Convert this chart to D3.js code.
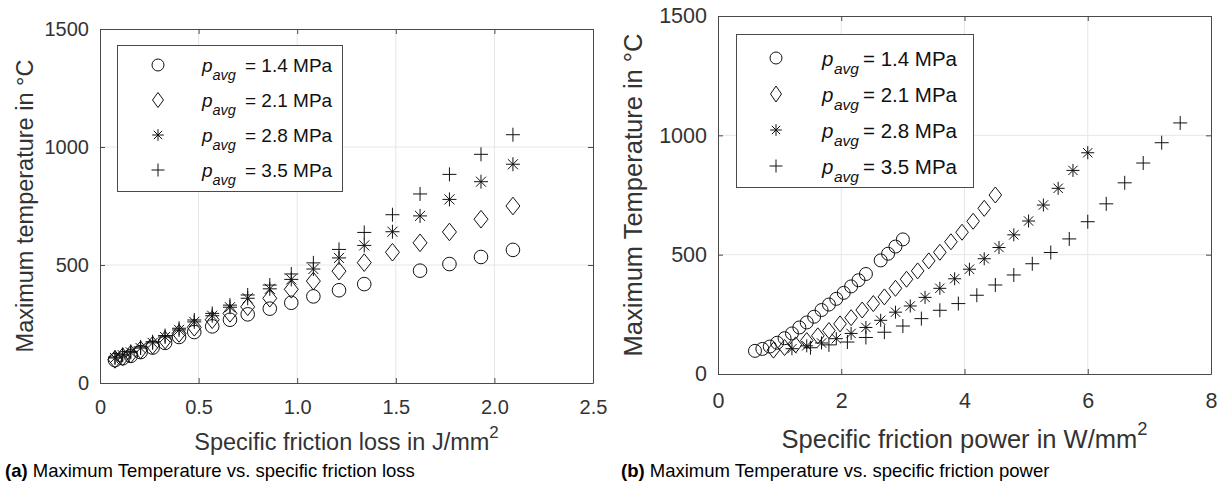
<!DOCTYPE html>
<html>
<head>
<meta charset="utf-8">
<script src="https://cdn.jsdelivr.net/npm/d3@7"></script>
<style>
  html, body { margin: 0; padding: 0; background: #fff; }
  svg { display: block; font-family: "Liberation Sans", Arial, Helvetica, sans-serif; }
</style>
</head>
<body>
<script>
// Specific friction loss (J/mm²), shared by all four pressure levels
const lossX = [0.076, 0.115, 0.156, 0.206, 0.267, 0.330, 0.401, 0.478, 0.569, 0.659, 0.749,
               0.861, 0.970, 1.082, 1.212, 1.340, 1.483, 1.623, 1.772, 1.932, 2.094];

// Specific friction power (W/mm²) for each pressure level
const powerP14 = [0.60, 0.72, 0.84, 0.96, 1.08, 1.20, 1.32, 1.44, 1.56, 1.68, 1.80,
                  1.92, 2.04, 2.16, 2.28, 2.40, 2.52, 2.64, 2.76, 2.88, 3.00];
const powerP21 = [0.90, 1.08, 1.26, 1.44, 1.62, 1.80, 1.98, 2.16, 2.34, 2.52, 2.70,
                  2.88, 3.06, 3.24, 3.42, 3.60, 3.78, 3.96, 4.14, 4.32, 4.50];
const powerP28 = [1.20, 1.44, 1.68, 1.92, 2.16, 2.40, 2.64, 2.88, 3.12, 3.36, 3.60,
                  3.84, 4.08, 4.32, 4.56, 4.80, 5.04, 5.28, 5.52, 5.76, 6.00];
const powerP35 = [1.50, 1.80, 2.10, 2.40, 2.70, 3.00, 3.30, 3.60, 3.90, 4.20, 4.50,
                  4.80, 5.10, 5.40, 5.70, 6.00, 6.30, 6.60, 6.90, 7.20, 7.50];

// Maximum temperature (°C); null = no measurement
const tempP14 = [97, 105, 115, 131, 150, 170, 195, 216, 240, 268, 291,
                 315, 340, 367, 393, 419, null, 476, 504, 534, 564];
const tempP21 = [100, 111, 122, 140, 160, 182, 210, 236, 268, 295, 323,
                 359, 397, 432, 474, 510, 554, 594, 640, 694, 750];
const tempP28 = [106, 118, 130, 148, 170, 195, 225, 259, 285, 321, 359,
                 399, 439, 483, 530, 583, 641, 708, 778, 853, 927];
const tempP35 = [110, 122, 134, 153, 175, 201, 232, 267, 295, 330, 373,
                 415, 462, 509, 566, 638, 713, 801, 884, 969, 1052];

const pressureLabels = ["1.4", "2.1", "2.8", "3.5"];
const markerKinds = ["circle", "diamond", "star", "plus"];

const lossTicks = [0, 0.5, 1.0, 1.5, 2.0, 2.5];
const lossTickLabels = ["0", "0.5", "1.0", "1.5", "2.0", "2.5"];
const powerTicks = [0, 2, 4, 6, 8];
const powerTickLabels = ["0", "2", "4", "6", "8"];
const tempTicks = [0, 500, 1000, 1500];
const tempTickLabels = ["0", "500", "1000", "1500"];

const svg = d3.select("body").append("svg")
  .attr("width", 1225).attr("height", 494);
svg.append("rect").attr("width", 1225).attr("height", 494).attr("fill", "#fff");

const INK = "#111";
const AXIS = "#4a4a4a";
const TEXT = "#333";
const GRID = "#e6e6e6";

function markerPath(kind, s) {
  switch (kind) {
    case "circle": {
      const r = s.r;
      return `M${-r},0A${r},${r} 0 1,0 ${r},0A${r},${r} 0 1,0 ${-r},0Z`;
    }
    case "diamond":
      return `M0,${-s.h}L${s.w},0L0,${s.h}L${-s.w},0Z`;
    case "star": {
      const a = s.a, d = s.a * 0.72;
      return `M0,${-a}V${a}M${-a},0H${a}M${-d},${-d}L${d},${d}M${-d},${d}L${d},${-d}`;
    }
    case "plus": {
      const a = s.p;
      return `M0,${-a}V${a}M${-a},0H${a}`;
    }
  }
}

function drawPanel(cfg) {
  const g = svg.append("g");
  const x = d3.scaleLinear().domain(cfg.xDomain).range([cfg.left, cfg.right]);
  const y = d3.scaleLinear().domain([0, 1500]).range([cfg.bottom, cfg.top]);

  // grid
  g.append("g").selectAll("line.gx").data(cfg.xTicks.slice(1, -1)).join("line")
    .attr("x1", d => x(d)).attr("x2", d => x(d))
    .attr("y1", cfg.top).attr("y2", cfg.bottom)
    .attr("stroke", GRID).attr("stroke-width", 1);
  g.append("g").selectAll("line.gy").data(tempTicks.slice(1, -1)).join("line")
    .attr("x1", cfg.left).attr("x2", cfg.right)
    .attr("y1", d => y(d)).attr("y2", d => y(d))
    .attr("stroke", GRID).attr("stroke-width", 1);

  // axes (ticks pointing inward, box on all four sides)
  const fmtX = d => cfg.xTickLabels[cfg.xTicks.indexOf(d)];
  const fmtY = d => tempTickLabels[tempTicks.indexOf(d)];
  const styleAxis = sel => {
    sel.selectAll("path.domain").attr("stroke", AXIS).attr("stroke-width", 1);
    sel.selectAll(".tick line").attr("stroke", AXIS).attr("stroke-width", 1);
    sel.selectAll("text").attr("fill", TEXT).attr("font-size", cfg.tickFont)
      .attr("font-family", "Liberation Sans, Arial, sans-serif");
  };
  g.append("g").attr("transform", `translate(0,${cfg.bottom})`)
    .call(d3.axisBottom(x).tickValues(cfg.xTicks).tickFormat(fmtX)
      .tickSizeInner(-5).tickSizeOuter(0).tickPadding(cfg.xPad))
    .call(styleAxis);
  g.append("g").attr("transform", `translate(0,${cfg.top})`)
    .call(d3.axisTop(x).tickValues(cfg.xTicks).tickFormat("")
      .tickSizeInner(-5).tickSizeOuter(0))
    .call(styleAxis);
  g.append("g").attr("transform", `translate(${cfg.left},0)`)
    .call(d3.axisLeft(y).tickValues(tempTicks).tickFormat(fmtY)
      .tickSizeInner(-5).tickSizeOuter(0).tickPadding(cfg.yPad))
    .call(styleAxis);
  g.append("g").attr("transform", `translate(${cfg.right},0)`)
    .call(d3.axisRight(y).tickValues(tempTicks).tickFormat("")
      .tickSizeInner(-5).tickSizeOuter(0))
    .call(styleAxis);

  // data markers
  cfg.series.forEach((s, i) => {
    const pts = s.xs.map((v, k) => [v, s.ys[k]]).filter(p => p[1] != null);
    g.append("g").selectAll("path").data(pts).join("path")
      .attr("transform", d => `translate(${x(d[0])},${y(d[1])})`)
      .attr("d", markerPath(markerKinds[i], cfg.mark))
      .attr("fill", "none").attr("stroke", INK).attr("stroke-width", 1);
  });

  // axis labels
  const xl = g.append("text")
    .attr("x", (cfg.left + cfg.right) / 2).attr("y", cfg.xLabelY)
    .attr("text-anchor", "middle").attr("fill", TEXT).attr("font-size", cfg.labelFont);
  xl.append("tspan").text(cfg.xLabel);
  xl.append("tspan").attr("dy", -cfg.labelFont * 0.5)
    .attr("font-size", cfg.labelFont * 0.72).text("2");

  g.append("text")
    .attr("transform", `translate(${cfg.yLabelX},${(cfg.top + cfg.bottom) / 2}) rotate(-90)`)
    .attr("text-anchor", "middle").attr("fill", TEXT).attr("font-size", cfg.labelFont)
    .text(cfg.yLabel);

  // legend
  const L = cfg.legend;
  g.append("rect").attr("x", L.x0 + 0.5).attr("y", L.y0 + 0.5)
    .attr("width", L.x1 - L.x0).attr("height", L.y1 - L.y0)
    .attr("fill", "#fff").attr("stroke", AXIS).attr("stroke-width", 1);
  pressureLabels.forEach((p, i) => {
    const cy = L.row0 + i * L.rowStep;
    g.append("path").attr("transform", `translate(${L.markX},${cy})`)
      .attr("d", markerPath(markerKinds[i], L.mark))
      .attr("fill", "none").attr("stroke", INK).attr("stroke-width", 1);
    const base = cy + L.baseOff;
    g.append("text").attr("x", L.pX).attr("y", base)
      .attr("font-size", L.font).attr("font-style", "italic").attr("fill", INK).text("p");
    g.append("text").attr("x", L.subX).attr("y", base + L.subDrop)
      .attr("font-size", L.subFont).attr("font-style", "italic").attr("fill", INK)
      .text("avg");
    g.append("text").attr("x", L.eqX).attr("y", base)
      .attr("font-size", L.font).attr("fill", INK)
      .attr("xml:space", "preserve").text(`= ${p} MPa`);
  });

  // caption
  const cap = svg.append("text").attr("x", cfg.capX).attr("y", 477)
    .attr("font-size", 18.5).attr("fill", "#000");
  cap.append("tspan").attr("font-weight", "bold").text(cfg.capTag);
  cap.append("tspan").text(" " + cfg.caption);
}

drawPanel({
  left: 100, right: 593, top: 29, bottom: 383,
  xDomain: [0, 2.5], xTicks: lossTicks, xTickLabels: lossTickLabels,
  tickFont: 20, xPad: 17, yPad: 11,
  labelFont: 23.5, xLabelY: 450, yLabelX: 33,
  xLabel: "Specific friction loss in J/mm",
  yLabel: "Maximum temperature in °C",
  mark: { r: 6.8, w: 7, h: 8.8, a: 7, p: 7 },
  series: [
    { xs: lossX, ys: tempP14 }, { xs: lossX, ys: tempP21 },
    { xs: lossX, ys: tempP28 }, { xs: lossX, ys: tempP35 }
  ],
  legend: { x0: 117, y0: 45, x1: 342, y1: 191, row0: 65, rowStep: 35, markX: 158,
            mark: { r: 6, w: 5.5, h: 7.5, a: 5.8, p: 6.5 },
            baseOff: 7, pX: 202, subX: 212.5, subDrop: 7.5, eqX: 245, font: 19, subFont: 14.5 },
  capX: 5, capTag: "(a)", caption: "Maximum Temperature vs. specific friction loss"
});

drawPanel({
  left: 718, right: 1211, top: 16, bottom: 374,
  xDomain: [0, 8], xTicks: powerTicks, xTickLabels: powerTickLabels,
  tickFont: 21.5, xPad: 18.5, yPad: 11,
  labelFont: 25.5, xLabelY: 448, yLabelX: 642,
  xLabel: "Specific friction power in W/mm",
  yLabel: "Maximum Temperature in °C",
  mark: { r: 6.5, w: 6.3, h: 8, a: 6.5, p: 7 },
  series: [
    { xs: powerP14, ys: tempP14 }, { xs: powerP21, ys: tempP21 },
    { xs: powerP28, ys: tempP28 }, { xs: powerP35, ys: tempP35 }
  ],
  legend: { x0: 736, y0: 34, x1: 973, y1: 187, row0: 58, rowStep: 36, markX: 776,
            mark: { r: 6, w: 5.5, h: 8, a: 5.8, p: 6.5 },
            baseOff: 7.5, pX: 822, subX: 834, subDrop: 8, eqX: 863, font: 20.5, subFont: 15.5 },
  capX: 621, capTag: "(b)", caption: "Maximum Temperature vs. specific friction power"
});
</script>
</body>
</html>
